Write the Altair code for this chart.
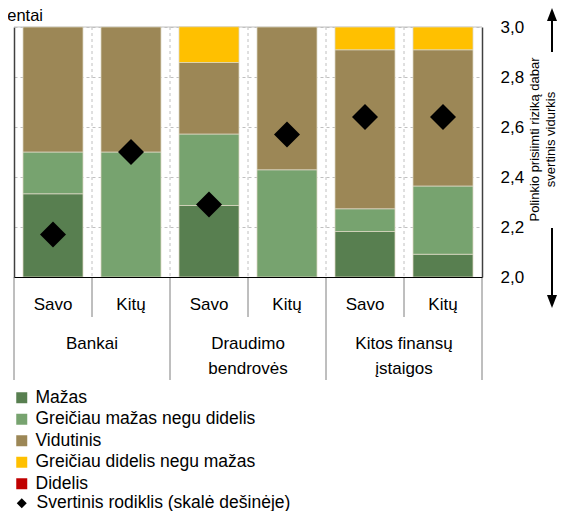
import altair as alt
import pandas as pd

# ---------------- data ----------------
groups = ["Bankai", "Draudimo bendrovės", "Kitos finansų įstaigos"]
group_labels = ["Bankai", "Draudimo\nbendrovės", "Kitos finansų\nįstaigos"]
subs = ["Savo", "Kitų"]
bar_group = ["Bankai", "Bankai", "Draudimo bendrovės", "Draudimo bendrovės",
             "Kitos finansų įstaigos", "Kitos finansų įstaigos"]
bar_sub = ["Savo", "Kitų", "Savo", "Kitų", "Savo", "Kitų"]

levels = ["Mažas", "Greičiau mažas negu didelis", "Vidutinis",
          "Greičiau didelis negu mažas", "Didelis"]
level_colors = ["#587f50", "#77a36f", "#9c8756", "#ffc000", "#c00000"]

mazas = [33.3, 0.0, 28.6, 0.0, 18.2, 9.1]
greiciau_mazas = [16.7, 50.0, 28.6, 42.9, 9.1, 27.3]
vidutinis = [50.0, 50.0, 28.6, 57.1, 63.6, 54.5]
greiciau_didelis = [0.0, 0.0, 14.3, 0.0, 9.1, 9.1]
didelis = [0.0, 0.0, 0.0, 0.0, 0.0, 0.0]
weighted = [2.17, 2.50, 2.29, 2.57, 2.64, 2.64]
weighted_label = "Svertinis rodiklis (skalė dešinėje)"

y_ticks = [0, 20, 40, 60, 80, 100]
y2_ticks = [2.0, 2.2, 2.4, 2.6, 2.8, 3.0]
right_title = ["Polinkio prisiimti riziką dabar", "svertinis vidurkis"]
left_title = "Procentai"

# ---------------- tables ----------------
series = [mazas, greiciau_mazas, vidutinis, greiciau_didelis, didelis]
rows = []
for li, (lev, vals) in enumerate(zip(levels, series)):
    for g, s, v in zip(bar_group, bar_sub, vals):
        if v > 0:
            rows.append({"group": g, "sub": s, "level": lev, "ord": li, "value": v})
df = pd.DataFrame(rows)
pdf = pd.DataFrame({"group": bar_group, "sub": bar_sub, "w": weighted,
                    "series": [weighted_label] * len(weighted)})
gdf = pd.DataFrame({"group": groups, "glabel": group_labels})
gdf_inner = gdf.iloc[1:]
gdf_last = gdf.iloc[-1:]
one = pd.DataFrame({"a": [0]})

FONT = "Liberation Sans"
W, H = 468, 250
GRID = "#c0c0c0"
SEP = "#7f7f7f"

xscale = alt.Scale(domain=groups, paddingInner=0, paddingOuter=0)
xaxis = alt.Axis(labels=False, ticks=False, grid=False, title=None,
                 domainColor="black", domainWidth=1, zindex=1)


def X(bp=None):
    if bp is None:
        return alt.X("group:N", sort=groups, scale=xscale, axis=xaxis)
    return alt.X("group:N", sort=groups, scale=xscale, axis=xaxis, bandPosition=bp)


xoff = alt.XOffset("sub:N", sort=subs,
                   scale=alt.Scale(domain=subs, paddingInner=0.2308, paddingOuter=0.1154))

# dashed vertical grid lines inside the plot
vgrid_mid = alt.Chart(gdf).mark_rule(color=GRID, strokeDash=[3, 3], strokeWidth=1).encode(
    x=X(0.5), y=alt.value(0), y2=alt.value(H))
vgrid_start = alt.Chart(gdf_inner).mark_rule(color=GRID, strokeDash=[3, 3], strokeWidth=1).encode(
    x=X(0), y=alt.value(0), y2=alt.value(H))
top_rule = alt.Chart(one).mark_rule(color=GRID, strokeWidth=1).encode(
    x=alt.value(0), x2=alt.value(W), y=alt.value(0))

bars = alt.Chart(df).mark_bar(stroke="#dcd7c3", strokeWidth=0.75).encode(
    x=X(), xOffset=xoff,
    y=alt.Y("value:Q", stack="zero",
            scale=alt.Scale(domain=[0, 100], nice=False),
            axis=alt.Axis(orient="left", values=y_ticks, labels=False, ticks=False,
                          title=None, domainColor="#404040", domainWidth=1.5,
                          grid=True, gridColor=GRID, gridDash=[3, 3], gridWidth=1)),
    color=alt.Color("level:N", scale=alt.Scale(domain=levels, range=level_colors),
                    legend=alt.Legend(title=None, orient="none", legendX=-1, legendY=362,
                                      direction="vertical", symbolType="square",
                                      symbolSize=121, symbolStrokeWidth=0,
                                      labelFont=FONT, labelFontSize=17.5, labelColor="black",
                                      labelOffset=5, rowPadding=2.5, padding=0, labelLimit=400)),
    order=alt.Order("ord:Q"),
)

points = alt.Chart(pdf).mark_point(filled=True, size=676, color="black", opacity=1,
                                   strokeWidth=0).encode(
    x=X(), xOffset=xoff,
    y=alt.Y("w:Q", scale=alt.Scale(domain=[2.0, 3.0], nice=False, zero=False),
            axis=alt.Axis(orient="right", values=y2_ticks, ticks=False, grid=False,
                          title=None, domainColor="#404040", domainWidth=1.5,
                          labelExpr="replace(format(datum.value, '.1f'), '.', ',')",
                          labelFont=FONT, labelFontSize=17, labelColor="black",
                          labelPadding=18)),
    shape=alt.Shape("series:N", scale=alt.Scale(domain=[weighted_label], range=["diamond"]),
                    legend=alt.Legend(title=None, orient="none", legendX=-1, legendY=467.5,
                                      direction="vertical", symbolSize=100,
                                      symbolFillColor="black", symbolStrokeWidth=0,
                                      labelFont=FONT, labelFontSize=17.5, labelColor="black",
                                      labelOffset=6, padding=0, labelLimit=400)),
)

# separators below the plot
sep_group = alt.Chart(gdf).mark_rule(color=SEP, strokeWidth=1).encode(
    x=X(0), y=alt.value(H), y2=alt.value(H + 103))
sep_last = alt.Chart(gdf_last).mark_rule(color=SEP, strokeWidth=1).encode(
    x=X(1), y=alt.value(H), y2=alt.value(H + 103))
sep_sub = alt.Chart(gdf).mark_rule(color=SEP, strokeWidth=1).encode(
    x=X(0.5), y=alt.value(H), y2=alt.value(H + 40))

sub_text = alt.Chart(pdf).mark_text(font=FONT, fontSize=17, color="black",
                                    baseline="middle", align="center").encode(
    x=X(), xOffset=xoff, y=alt.value(277.5), text="sub:N")
group_text = alt.Chart(gdf).mark_text(font=FONT, fontSize=17, color="black",
                                      baseline="top", align="center",
                                      lineBreak="\n", lineHeight=25).encode(
    x=X(), y=alt.value(309), text="glabel:N")

# right-hand title and arrows
title1 = alt.Chart(one).mark_text(text=right_title[0], font=FONT,
                                  fontSize=13, angle=270, color="black",
                                  align="center", baseline="middle").encode(
    x=alt.value(521), y=alt.value(112.5))
title2 = alt.Chart(one).mark_text(text=right_title[1], font=FONT,
                                  fontSize=13, angle=270, color="black",
                                  align="center", baseline="middle").encode(
    x=alt.value(537), y=alt.value(112.5))
up_line = alt.Chart(one).mark_rule(color="black", strokeWidth=2).encode(
    x=alt.value(538), y=alt.value(25), y2=alt.value(-8))
up_head = alt.Chart(one).mark_point(shape="M-0.77,1L0,-1L0.77,1Z", filled=True,
                                    size=169, color="black", opacity=1).encode(
    x=alt.value(538), y=alt.value(-12.5))
down_line = alt.Chart(one).mark_rule(color="black", strokeWidth=2).encode(
    x=alt.value(538), y=alt.value(201), y2=alt.value(270))
down_head = alt.Chart(one).mark_point(shape="M-0.77,-1L0,1L0.77,-1Z", filled=True,
                                      size=169, color="black", opacity=1).encode(
    x=alt.value(538), y=alt.value(274.5))

left_text = alt.Chart(one).mark_text(text=left_title, font=FONT, fontSize=16.5,
                                     color="black", align="right",
                                     baseline="alphabetic").encode(
    x=alt.value(29), y=alt.value(-6))

chart = alt.layer(
    vgrid_mid, vgrid_start, top_rule, bars, points,
    sep_group, sep_last, sep_sub, sub_text, group_text,
    title1, title2, up_line, up_head, down_line, down_head, left_text,
).resolve_scale(y="independent").properties(
    width=W, height=H,
    autosize=alt.AutoSizeParams(type="none"),
    padding={"left": 6, "top": 19, "right": 76, "bottom": 234},
).configure_view(stroke=None)

chart.save("out.html", embed_options={"renderer": "svg", "actions": False})
